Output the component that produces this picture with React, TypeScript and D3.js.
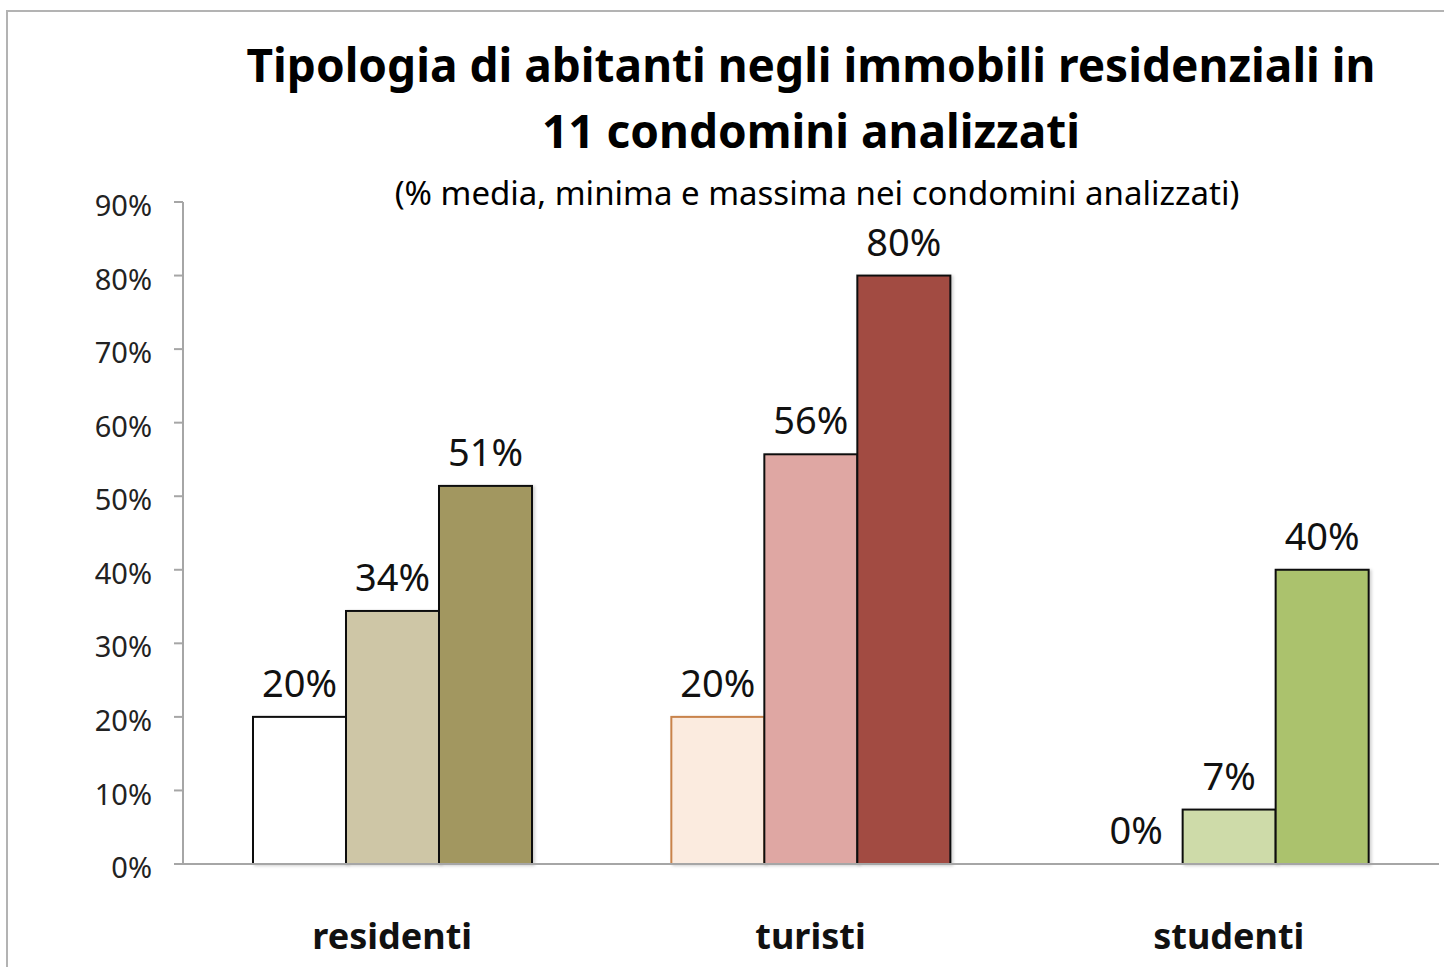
import { useMemo } from "react";
import * as d3 from "d3";

// categories and series
const groups = ["residenti", "turisti", "studenti"];
const seriesKeys = ["minima", "media", "massima"];

// values (%) per group
const minima = [20, 20, 0];
const media = [34.4, 55.7, 7.4];
const massima = [51.4, 80, 40];

const yTicks = [0, 10, 20, 30, 40, 50, 60, 70, 80, 90];

const titleLines = [
  "Tipologia di abitanti negli immobili residenziali in",
  "11 condomini analizzati",
];
const subtitle = "(% media, minima e massima nei condomini analizzati)";

// colours per group: [minima, media, massima]
const FILLS = [
  ["#ffffff", "#cec6a6", "#a29760"],
  ["#fbebdf", "#dfa7a3", "#a24b42"],
  ["#ffffff", "#cedba9", "#abc26d"],
];
const STROKES = [
  ["#111", "#111", "#111"],
  ["#c8834b", "#111", "#111"],
  ["#111", "#111", "#111"],
];

const WIDTH = 1444;
const HEIGHT = 967;
const PLOT = { left: 183, right: 1438, top: 202, bottom: 864 };
const FONT = "'Noto Sans', 'Open Sans', sans-serif";

const App = () => {
  const data = groups.map((g, i) => ({
    group: g,
    values: [minima[i], media[i], massima[i]],
  }));

  const yScale = useMemo(
    () => d3.scaleLinear().domain([0, 90]).range([PLOT.bottom, PLOT.top]),
    []
  );
  const xScale = useMemo(
    () => d3.scaleBand().domain(groups).range([PLOT.left, PLOT.right]).padding(0),
    []
  );
  // bars sit inside each group band
  const xSub = useMemo(
    () => d3.scaleBand().domain(seriesKeys).range([70, 349]).padding(0),
    []
  );

  return (
    <svg
      width={WIDTH}
      height={HEIGHT}
      style={{ position: "absolute", left: 0, top: 0, background: "#fff" }}
      fontFamily={FONT}
    >
      <defs>
        <filter id="shadow" x="-10%" y="-10%" width="130%" height="130%">
          <feDropShadow dx="2" dy="1" stdDeviation="1.5" floodColor="#000" floodOpacity="0.18" />
        </filter>
      </defs>

      {/* outer frame */}
      <rect x={7} y={11} width={WIDTH + 20} height={HEIGHT + 20} fill="#fff" stroke="#b3b3b3" strokeWidth={2} />

      {/* title */}
      <text textAnchor="middle" fontWeight="bold" fontSize={46} fill="#000">
        {titleLines.map((t, i) => (
          <tspan key={i} x={811} y={82 + i * 66}>
            {t}
          </tspan>
        ))}
      </text>
      <text x={817} y={205} textAnchor="middle" fontSize={33} fill="#000">
        {subtitle}
      </text>

      {/* y axis */}
      <g>
        <line x1={PLOT.left} x2={PLOT.left} y1={yScale(90)} y2={yScale(0)} stroke="#a6a6a6" strokeWidth={2} />
        {yTicks.map((t) => (
          <g key={t} transform={`translate(0,${yScale(t)})`}>
            <line x1={PLOT.left - 9} x2={PLOT.left} stroke="#a6a6a6" strokeWidth={2} />
            <text x={152} y={4} dy="0.35em" textAnchor="end" fontSize={29} fill="#222">
              {t + "%"}
            </text>
          </g>
        ))}
      </g>

      {/* bars */}
      {data.map((d, gi) => (
        <g key={d.group} transform={`translate(${xScale(d.group)},0)`}>
          {d.values.map((v, si) =>
            v > 0 ? (
              <rect
                key={si}
                x={xSub(seriesKeys[si])}
                y={yScale(v)}
                width={xSub.bandwidth()}
                height={yScale(0) - yScale(v)}
                fill={FILLS[gi][si]}
                stroke={STROKES[gi][si]}
                strokeWidth={2}
                filter="url(#shadow)"
              />
            ) : null
          )}
          {d.values.map((v, si) => (
            <text
              key={"l" + si}
              x={(xSub(seriesKeys[si]) ?? 0) + xSub.bandwidth() / 2}
              y={yScale(v) - 20}
              textAnchor="middle"
              fontSize={38}
              fill="#111"
            >
              {Math.round(v) + "%"}
            </text>
          ))}
        </g>
      ))}

      {/* x axis */}
      <line x1={PLOT.left - 9} x2={PLOT.right + 1} y1={yScale(0)} y2={yScale(0)} stroke="#a6a6a6" strokeWidth={2} />
      {groups.map((g) => (
        <text
          key={g}
          x={(xScale(g) ?? 0) + xScale.bandwidth() / 2}
          y={949}
          textAnchor="middle"
          fontWeight="bold"
          fontSize={36}
          fill="#111"
        >
          {g}
        </text>
      ))}
    </svg>
  );
};

export default App;
